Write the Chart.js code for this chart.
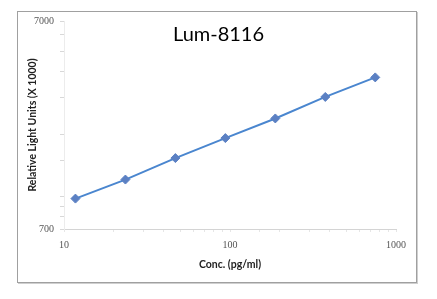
<!DOCTYPE html>
<html>
<head>
<meta charset="utf-8">
<script src="https://cdn.jsdelivr.net/npm/chart.js@4/dist/chart.umd.min.js"></script>
<style>
  html, body { margin: 0; padding: 0; background: #fff; }
  #wrap { position: relative; width: 437px; height: 299px; }
  #frame {
    position: absolute; left: 17px; top: 11px; width: 398px; height: 270px;
    border: 1px solid #a0a0a0; box-shadow: 1px 1px 0 #cfcfcf;
  }
  #chart { position: absolute; left: 0; top: 0; }
</style>
</head>
<body>
<div id="wrap">
  <div id="frame"></div>
  <canvas id="chart" width="437" height="299"></canvas>
</div>
<script>
const chartTitle = "Lum-8116";
const xTitle = "Conc. (pg/ml)";
const yTitle = "Relative Light Units (X 1000)";

// concentration (pg/ml) and RLU (x1000)
const conc = [11.72, 23.44, 46.88, 93.75, 187.5, 375, 750];
const rlu = [980, 1210, 1535, 1915, 2380, 3020, 3750];

const xLabels = [10, 100, 1000];
const yLabels = [700, 7000];

const tickFont = { family: "'Liberation Serif', serif", size: 10 };
const titleFont = { family: "Lato, 'Open Sans', sans-serif", size: 10.5, weight: "bold" };

new Chart(document.getElementById("chart"), {
  type: "line",
  data: {
    datasets: [
      {
        data: conc.map((c, i) => ({ x: c, y: rlu[i] })),
        borderColor: "#4a86cf",
        borderWidth: 2,
        pointStyle: "rectRot",
        pointRadius: 4.5,
        pointBackgroundColor: "#5b80c3",
        pointBorderColor: "#5b80c3",
        pointBorderWidth: 1,
        tension: 0,
      },
    ],
  },
  options: {
    responsive: false,
    animation: false,
    layout: { padding: 0 },
    plugins: {
      legend: { display: false },
      tooltip: { enabled: false },
      title: {
        display: true,
        text: chartTitle,
        color: "#000",
        font: { family: "Lato, 'Open Sans', sans-serif", size: 20, weight: "normal" },
        padding: { top: 23, bottom: -26 },
      },
    },
    scales: {
      x: {
        type: "logarithmic",
        min: 10,
        max: 1000,
        afterFit: (s) => { s.height = 70; },
        border: { display: true, color: "#d4d4d4", width: 1 },
        grid: { drawOnChartArea: false, drawTicks: true, tickLength: 3, color: "#e6e6e6" },
        ticks: {
          autoSkip: false,
          maxRotation: 0,
          padding: 7,
          color: "#555",
          font: tickFont,
          callback: (v) => (xLabels.includes(v) ? String(v) : ""),
        },
        title: {
          display: true,
          text: xTitle,
          color: "#222",
          font: titleFont,
          padding: { top: 0, bottom: 28 },
        },
      },
      y: {
        type: "logarithmic",
        min: 700,
        max: 7000,
        afterFit: (s) => { s.width = 64; },
        border: { display: true, color: "#ececec", width: 1 },
        grid: { drawOnChartArea: false, drawTicks: true, tickLength: 4, color: "#d8d8d8" },
        ticks: {
          autoSkip: false,
          padding: 6,
          color: "#555",
          font: tickFont,
          callback: (v) => (yLabels.includes(v) ? String(v) : ""),
        },
        title: {
          display: true,
          text: yTitle,
          color: "#222",
          font: titleFont,
          padding: { top: 26, bottom: 0 },
        },
      },
      // empty right-hand strip so the title stays centred on the whole frame
      yRight: {
        position: "right",
        afterFit: (s) => { s.width = 41; },
        grid: { display: false },
        border: { display: false },
        ticks: { display: false },
      },
    },
  },
});
</script>
</body>
</html>
